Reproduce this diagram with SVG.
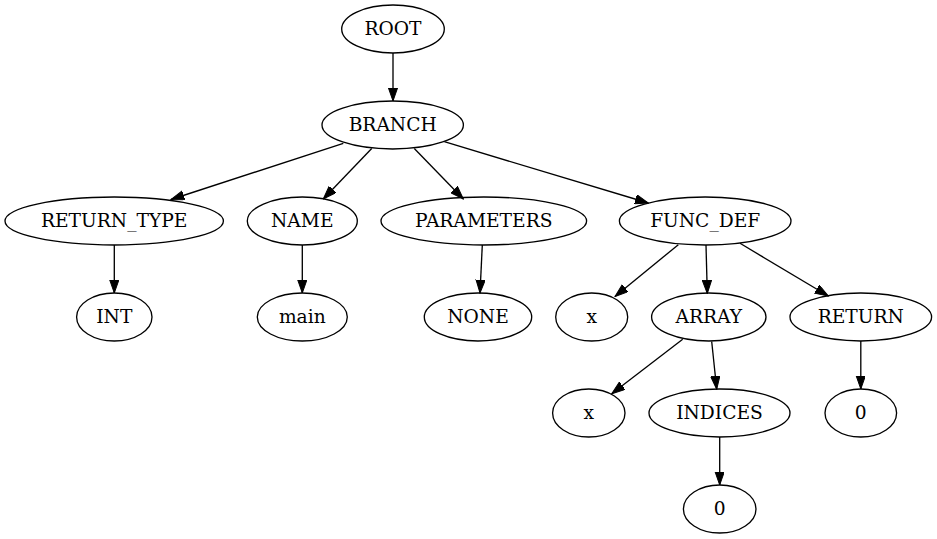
<svg xmlns="http://www.w3.org/2000/svg" width="937" height="539" viewBox="0 0 937 539">
<style>
.n ellipse{fill:none;stroke:#000;stroke-width:1.33}
.n text{font-family:'DejaVu Serif',serif;font-size:18.67px;text-anchor:middle;fill:#000}
#edges line{stroke:#000;stroke-width:1.33;marker-end:url(#ah)}
</style>
<defs>
<marker id="ah" markerUnits="userSpaceOnUse" markerWidth="14" markerHeight="10" refX="13.3" refY="4.67" orient="auto">
<path d="M0,0 L13.3,4.67 L0,9.33 z" fill="#000" stroke="#000" stroke-width="1"/>
</marker>
</defs>
<rect width="937" height="539" fill="#fff"/>
<g id="edges">
<line x1="393" y1="53" x2="393" y2="101"/>
<line x1="343.3" y1="143.3" x2="171" y2="199.5"/>
<line x1="371.7" y1="148.5" x2="323.3" y2="199"/>
<line x1="414.3" y1="148.5" x2="463.3" y2="199"/>
<line x1="444.3" y1="141.7" x2="648.3" y2="203"/>
<line x1="114.3" y1="245" x2="114.3" y2="293"/>
<line x1="302.3" y1="245" x2="302.3" y2="293"/>
<line x1="482.3" y1="245" x2="480" y2="293"/>
<line x1="678.3" y1="244.7" x2="615" y2="296.5"/>
<line x1="706" y1="245" x2="707.3" y2="293.5"/>
<line x1="740" y1="243.3" x2="828.3" y2="296"/>
<line x1="682.7" y1="339.3" x2="611.7" y2="393.8"/>
<line x1="711.7" y1="341.5" x2="716.7" y2="389.3"/>
<line x1="860.8" y1="341" x2="860.8" y2="389"/>
<line x1="719.7" y1="437" x2="719.7" y2="485"/>
</g>
<g id="root" class="n"><ellipse cx="393" cy="29" rx="51.3" ry="24"/><text x="393" y="34.5" font-family="DejaVu Serif, serif">ROOT</text></g>
<g id="branch" class="n"><ellipse cx="392.7" cy="125" rx="70.7" ry="24"/><text x="392.7" y="130.5" font-family="DejaVu Serif, serif">BRANCH</text></g>
<g id="return_type" class="n"><ellipse cx="114.2" cy="221" rx="109.2" ry="24"/><text x="114.2" y="226.5" font-family="DejaVu Serif, serif">RETURN_TYPE</text></g>
<g id="name" class="n"><ellipse cx="302.3" cy="221" rx="55" ry="24"/><text x="302.3" y="226.5" font-family="DejaVu Serif, serif">NAME</text></g>
<g id="parameters" class="n"><ellipse cx="483.8" cy="221" rx="102.8" ry="24"/><text x="483.8" y="226.5" font-family="DejaVu Serif, serif">PARAMETERS</text></g>
<g id="func_def" class="n"><ellipse cx="705.2" cy="221" rx="85.8" ry="24"/><text x="705.2" y="226.5" font-family="DejaVu Serif, serif">FUNC_DEF</text></g>
<g id="int" class="n"><ellipse cx="114.3" cy="317" rx="37.7" ry="24"/><text x="114.3" y="322.5" font-family="DejaVu Serif, serif">INT</text></g>
<g id="main" class="n"><ellipse cx="302.3" cy="317" rx="45" ry="24"/><text x="302.3" y="322.5" font-family="DejaVu Serif, serif">main</text></g>
<g id="none" class="n"><ellipse cx="478" cy="317" rx="53.7" ry="24"/><text x="478" y="322.5" font-family="DejaVu Serif, serif">NONE</text></g>
<g id="x1" class="n"><ellipse cx="591.7" cy="317" rx="36" ry="24"/><text x="591.7" y="322.5" font-family="DejaVu Serif, serif">x</text></g>
<g id="array" class="n"><ellipse cx="708.8" cy="317" rx="57.2" ry="24"/><text x="708.8" y="322.5" font-family="DejaVu Serif, serif">ARRAY</text></g>
<g id="return" class="n"><ellipse cx="860.8" cy="317" rx="70.8" ry="24"/><text x="860.8" y="322.5" font-family="DejaVu Serif, serif">RETURN</text></g>
<g id="x2" class="n"><ellipse cx="588.8" cy="413" rx="36.2" ry="24"/><text x="588.8" y="418.5" font-family="DejaVu Serif, serif">x</text></g>
<g id="indices" class="n"><ellipse cx="719.5" cy="413" rx="70.5" ry="24"/><text x="719.5" y="418.5" font-family="DejaVu Serif, serif">INDICES</text></g>
<g id="zero1" class="n"><ellipse cx="860.8" cy="413" rx="35.8" ry="24"/><text x="860.8" y="418.5" font-family="DejaVu Serif, serif">0</text></g>
<g id="zero2" class="n"><ellipse cx="719.7" cy="509" rx="36.3" ry="24"/><text x="719.7" y="514.5" font-family="DejaVu Serif, serif">0</text></g>
</svg>
